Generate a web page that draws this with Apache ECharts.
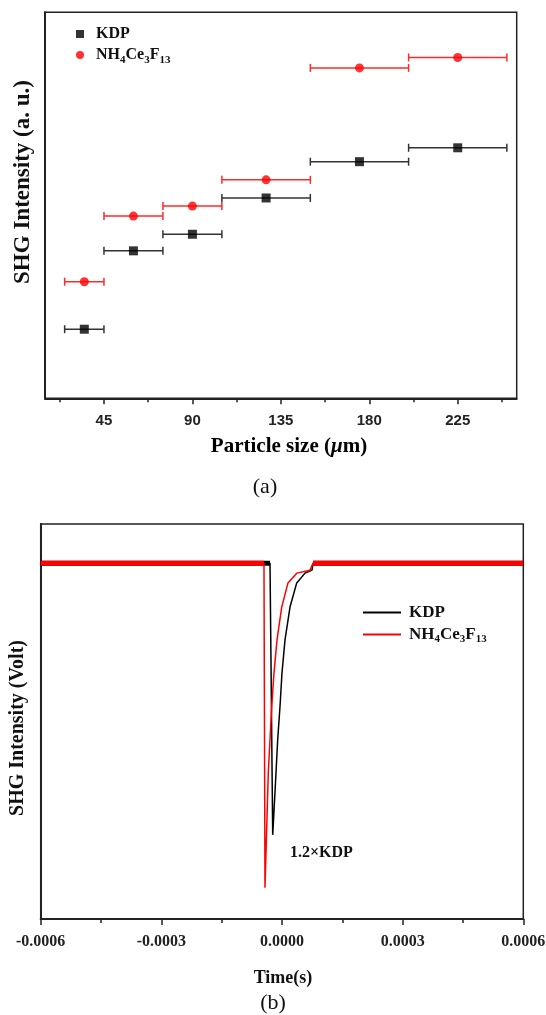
<!DOCTYPE html>
<html><head><meta charset="utf-8">
<script src="https://cdn.jsdelivr.net/npm/echarts@6/dist/echarts.min.js"></script>
<style>html,body{margin:0;padding:0;background:#fff}#c{width:546px;height:1015px}</style>
</head><body><div id="c"></div><script>
// ---- (a) particle size vs SHG intensity ----
const sizeMid = [35, 60, 90, 127.5, 175, 225];
const sizeLo = [25, 45, 75, 105, 150, 200];
const sizeHi = [45, 75, 105, 150, 200, 250];
const kdpShg = [17.9, 38.2, 42.5, 51.9, 61.3, 64.9];
const nhShg = [30.2, 47.2, 49.8, 56.6, 85.6, 88.3];
const sizeTicks = [45, 90, 135, 180, 225];
const sizeMinorTicks = [22.5, 67.5, 112.5, 157.5, 202.5, 247.5];

// ---- (b) oscilloscope traces ----
const kdpTime = [-0.0006, -0.0000298, -0.0000231, -0.0000149, -0.0000107, -0.0000050, 0.0000000, 0.0000075, 0.0000199, 0.0000366, 0.0000572, 0.0000746, 0.0000771, 0.0006];
const kdpVolt = [0, 0, -1.0, -0.771, -0.649, -0.528, -0.403, -0.282, -0.161, -0.072, -0.036, -0.025, 0, 0];
const nhTime = [-0.0006, -0.0000448, -0.0000423, -0.0000341, -0.0000298, -0.0000256, -0.0000199, -0.0000124, -0.0000007, 0.0000149, 0.0000366, 0.0000696, 0.0000771, 0.0006];
const nhVolt = [0, 0, -1.195, -0.771, -0.649, -0.528, -0.403, -0.282, -0.161, -0.072, -0.036, -0.025, 0, 0];
const timeTickFmt = 4;

const SERIF = 'Liberation Serif';
const SANS = 'Liberation Sans';
const NH = 'NH4Ce3F13';
const richName = {
  b: {fontFamily: SERIF, fontWeight: 'bold', fontSize: 16, color: '#111'},
  s: {fontFamily: SERIF, fontWeight: 'bold', fontSize: 11, color: '#111', padding: [10, 0, 0, 0], verticalAlign: 'bottom'},
  b2: {fontFamily: SERIF, fontWeight: 'bold', fontSize: 17, color: '#111'},
  s2: {fontFamily: SERIF, fontWeight: 'bold', fontSize: 11, color: '#111', padding: [10, 0, 0, 0], verticalAlign: 'bottom'}
};
function fmtName(n, big) {
  const b = big ? 'b2' : 'b', s = big ? 's2' : 's';
  if (n === NH) return `{${b}|NH}{${s}|4}{${b}|Ce}{${s}|3}{${b}|F}{${s}|13}`;
  return `{${b}|${n}}`;
}

function errData(lo, hi, y) { return lo.map((l, i) => [l, hi[i], y[i]]); }
function errRender(color) {
  return function (params, api) {
    const p1 = api.coord([api.value(0), api.value(2)]);
    const p2 = api.coord([api.value(1), api.value(2)]);
    const c = 4;
    const st = {stroke: color, lineWidth: 1.5};
    return {type: 'group', children: [
      {type: 'line', shape: {x1: p1[0], y1: p1[1], x2: p2[0], y2: p2[1]}, style: st},
      {type: 'line', shape: {x1: p1[0], y1: p1[1] - c, x2: p1[0], y2: p1[1] + c}, style: st},
      {type: 'line', shape: {x1: p2[0], y1: p2[1] - c, x2: p2[0], y2: p2[1] + c}, style: st}
    ]};
  };
}
function pairs(t, v) { return t.map((x, i) => [x, v[i]]); }
function baselineOf(t, v) {
  const n = t.length;
  return [[t[0], v[0]], [t[1], v[1]], ['-', '-'], [t[n - 2], v[n - 2]], [t[n - 1], v[n - 1]]];
}

const chart = echarts.init(document.getElementById('c'), null, {renderer: 'canvas'});
const option = {
  backgroundColor: '#fff',
  animation: false,
  grid: [
    {left: 45, top: 12.3, right: 29.3, bottom: 616.7, show: true, borderColor: '#222', borderWidth: 1.5, outerBoundsMode: 'none'},
    {left: 40.7, top: 524, right: 22.7, bottom: 96, show: true, borderColor: '#222', borderWidth: 1.5, outerBoundsMode: 'none'}
  ],
  legend: [
    {
      orient: 'vertical', left: 71, top: 21, itemWidth: 8, itemHeight: 8, itemGap: 5,
      data: [{name: 'KDP', icon: 'rect'}, {name: NH, icon: 'circle'}],
      formatter: n => fmtName(n, false),
      textStyle: {rich: richName, padding: [0, 0, 0, 7]}
    },
    {
      orient: 'vertical', left: 358, top: 599, itemWidth: 38, itemHeight: 2, itemGap: 5,
      data: [{name: 'KDP ', icon: 'rect'}, {name: NH + ' ', icon: 'rect'}],
      formatter: n => fmtName(n.trim(), true),
      textStyle: {rich: richName, padding: [0, 0, 0, 3]}
    }
  ],
  xAxis: [
    {
      gridIndex: 0, type: 'value', min: 15, max: 255,
      axisLine: {show: true, onZero: false, lineStyle: {color: '#222', width: 2}},
      axisTick: {show: true, customValues: sizeTicks, length: 6, lineStyle: {color: '#222', width: 1.5}},
      axisLabel: {customValues: sizeTicks, margin: 15, fontFamily: SANS, fontWeight: 'bold', fontSize: 15, color: '#222'},
      splitLine: {show: false}
    },
    {
      gridIndex: 0, type: 'value', min: 15, max: 255, position: 'bottom',
      axisLine: {show: false, onZero: false},
      axisTick: {show: true, customValues: sizeMinorTicks, length: 4, lineStyle: {color: '#222', width: 1.5}},
      axisLabel: {show: false}, splitLine: {show: false}
    },
    {
      gridIndex: 1, type: 'value', min: -0.0006, max: 0.0006, interval: 0.0003,
      axisLine: {show: true, onZero: false, lineStyle: {color: '#222', width: 2}},
      axisTick: {show: true, length: 6, lineStyle: {color: '#222', width: 1.5}},
      minorTick: {show: true, splitNumber: 2, length: 4, lineStyle: {color: '#222', width: 1.5}},
      axisLabel: {margin: 15, fontFamily: SERIF, fontWeight: 'bold', fontSize: 16, color: '#222',
        formatter: v => v.toFixed(timeTickFmt)},
      splitLine: {show: false}
    }
  ],
  yAxis: [
    {gridIndex: 0, type: 'value', min: 0, max: 100,
      axisLine: {show: true, onZero: false, lineStyle: {color: '#222', width: 2}}, axisTick: {show: false}, axisLabel: {show: false}, splitLine: {show: false}},
    {gridIndex: 1, type: 'value', min: -1.31, max: 0.145,
      axisLine: {show: true, onZero: false, lineStyle: {color: '#222', width: 2}}, axisTick: {show: false}, axisLabel: {show: false}, splitLine: {show: false}}
  ],
  series: [
    {type: 'custom', xAxisIndex: 0, yAxisIndex: 0, renderItem: errRender('#333'), data: errData(sizeLo, sizeHi, kdpShg), encode: {x: [0, 1], y: 2}, z: 2, silent: true},
    {type: 'custom', xAxisIndex: 0, yAxisIndex: 0, renderItem: errRender('#ff2a2a'), data: errData(sizeLo, sizeHi, nhShg), encode: {x: [0, 1], y: 2}, z: 2, silent: true},
    {name: 'KDP', type: 'scatter', xAxisIndex: 0, yAxisIndex: 0, symbol: 'rect', symbolSize: 9, itemStyle: {color: '#000'}, data: pairs(sizeMid, kdpShg), z: 3},
    {name: NH, type: 'scatter', xAxisIndex: 0, yAxisIndex: 0, symbol: 'circle', symbolSize: 9, itemStyle: {color: '#ff0000'}, data: pairs(sizeMid, nhShg), z: 3},

    {name: 'kdp-base', type: 'line', xAxisIndex: 2, yAxisIndex: 1, symbol: 'none', lineStyle: {color: '#000', width: 5}, data: baselineOf(kdpTime, kdpVolt), z: 2},
    {name: 'KDP ', type: 'line', xAxisIndex: 2, yAxisIndex: 1, symbol: 'none', lineStyle: {color: '#000', width: 1.5}, itemStyle: {color: '#000'}, data: pairs(kdpTime, kdpVolt), z: 2},
    {name: 'nh-base', type: 'line', xAxisIndex: 2, yAxisIndex: 1, symbol: 'none', lineStyle: {color: '#ff0000', width: 5}, data: baselineOf(nhTime, nhVolt), z: 3},
    {name: NH + ' ', type: 'line', xAxisIndex: 2, yAxisIndex: 1, symbol: 'none', lineStyle: {color: '#ff0000', width: 1.5}, itemStyle: {color: '#ff0000'}, data: pairs(nhTime, nhVolt), z: 3}
  ],
  graphic: [
    {type: 'text', x: 23, y: 182, rotation: Math.PI / 2, style: {text: 'SHG Intensity (a. u.)', font: `bold 23px "${SERIF}"`, fill: '#111', align: 'center', verticalAlign: 'middle'}},
    {type: 'text', x: 289, y: 447, style: {text: '{a|Particle size (}{i|μ}{a|m)}', rich: {
      a: {fontFamily: SERIF, fontWeight: 'bold', fontSize: 21, color: '#111'},
      i: {fontFamily: SERIF, fontWeight: 'bold', fontStyle: 'italic', fontSize: 21, color: '#111'}}, align: 'center', verticalAlign: 'middle'}},
    {type: 'text', x: 265, y: 487, style: {text: '(a)', font: `22px "${SERIF}"`, fill: '#111', align: 'center', verticalAlign: 'middle'}},
    {type: 'text', x: 18, y: 728, rotation: Math.PI / 2, style: {text: 'SHG Intensity (Volt)', font: `bold 20px "${SERIF}"`, fill: '#111', align: 'center', verticalAlign: 'middle'}},
    {type: 'text', x: 283, y: 978, style: {text: 'Time(s)', font: `bold 18px "${SERIF}"`, fill: '#111', align: 'center', verticalAlign: 'middle'}},
    {type: 'text', x: 273, y: 1003, style: {text: '(b)', font: `22px "${SERIF}"`, fill: '#111', align: 'center', verticalAlign: 'middle'}},
    {type: 'text', x: 290, y: 853, style: {text: '1.2×KDP', font: `bold 16px "${SERIF}"`, fill: '#111', align: 'left', verticalAlign: 'middle'}}
  ]
};
chart.setOption(option);
</script></body></html>
